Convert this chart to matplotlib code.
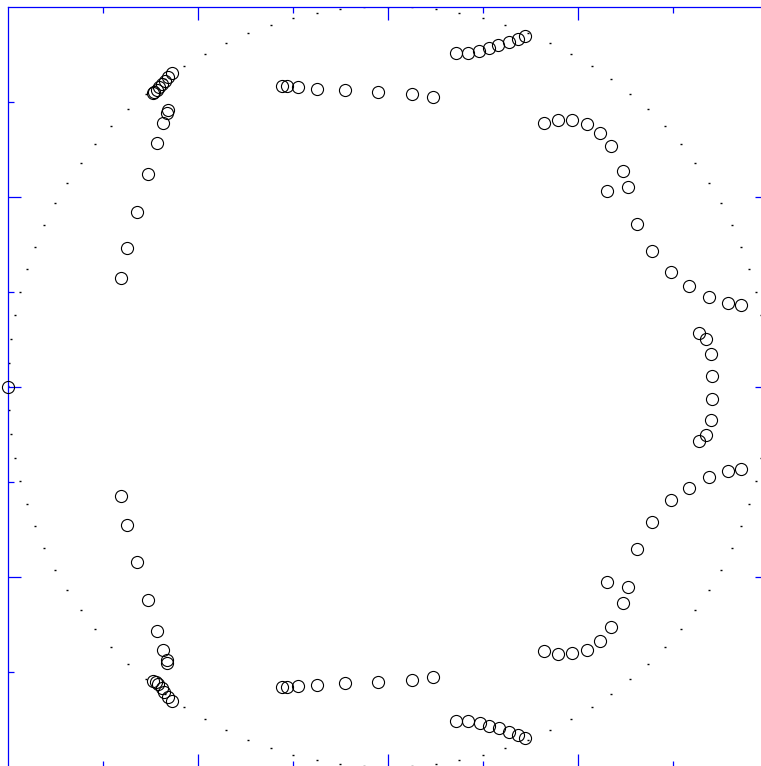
import matplotlib
matplotlib.use("Agg")
import matplotlib.pyplot as plt
import numpy as np

# outline of the domain: evenly spaced points on the unit circle
boundary_count = 100

# node positions (data units, axes run -1..1)
left_upper_x = [-0.703, -0.687, -0.661, -0.632, -0.608, -0.592, -0.582, -0.579,
                -0.618, -0.616, -0.608, -0.603, -0.595, -0.587, -0.579, -0.568]
left_upper_y = [0.286, 0.364, 0.459, 0.559, 0.641, 0.693, 0.720, 0.728,
                0.772, 0.775, 0.780, 0.788, 0.796, 0.804, 0.814, 0.825]

left_lower_x = [-0.703, -0.687, -0.661, -0.632, -0.608, -0.592, -0.582, -0.582,
                -0.618, -0.611, -0.605, -0.595, -0.589, -0.579, -0.568]
left_lower_y = [-0.288, -0.364, -0.462, -0.562, -0.643, -0.693, -0.720, -0.728,
                -0.775, -0.778, -0.783, -0.793, -0.804, -0.817, -0.828]

top_row_x = [-0.279, -0.266, -0.237, -0.187, -0.113, -0.026, 0.063, 0.118,
             0.179, 0.211, 0.239, 0.266, 0.289, 0.318, 0.342, 0.361]
top_row_y = [0.791, 0.791, 0.788, 0.783, 0.780, 0.775, 0.770, 0.762,
             0.878, 0.878, 0.883, 0.891, 0.899, 0.907, 0.914, 0.922]

bottom_row_x = [-0.279, -0.266, -0.237, -0.187, -0.113, -0.026, 0.063, 0.118,
                0.179, 0.211, 0.242, 0.266, 0.292, 0.318, 0.342, 0.361]
bottom_row_y = [-0.791, -0.791, -0.788, -0.786, -0.780, -0.778, -0.772, -0.765,
                -0.880, -0.880, -0.886, -0.893, -0.899, -0.909, -0.917, -0.925]

right_upper_x = [0.411, 0.447, 0.484, 0.524, 0.558, 0.587, 0.618, 0.632,
                 0.576, 0.655, 0.695, 0.745, 0.792, 0.845, 0.895, 0.929]
right_upper_y = [0.693, 0.701, 0.701, 0.691, 0.667, 0.633, 0.567, 0.525,
                 0.514, 0.428, 0.357, 0.301, 0.264, 0.236, 0.220, 0.214]

right_mid_x = [0.818, 0.837, 0.850, 0.853, 0.853, 0.850, 0.837, 0.818]
right_mid_y = [0.141, 0.125, 0.086, 0.028, -0.032, -0.088, -0.128, -0.143]

right_lower_x = [0.411, 0.447, 0.484, 0.524, 0.558, 0.587, 0.618, 0.632,
                 0.576, 0.655, 0.695, 0.745, 0.792, 0.845, 0.895, 0.929]
right_lower_y = [-0.696, -0.704, -0.701, -0.694, -0.670, -0.633, -0.570, -0.528,
                 -0.514, -0.428, -0.357, -0.299, -0.267, -0.238, -0.222, -0.217]

edge_x = [-1.0]
edge_y = [0.0]

node_x = (left_upper_x + left_lower_x + top_row_x + bottom_row_x
          + right_upper_x + right_mid_x + right_lower_x + edge_x)
node_y = (left_upper_y + left_lower_y + top_row_y + bottom_row_y
          + right_upper_y + right_mid_y + right_lower_y + edge_y)

fig = plt.figure(figsize=(7.61, 7.66), dpi=100)
ax = fig.add_axes([8 / 761, -0.5 / 766, 760 / 761, 760 / 766])

theta = np.arange(boundary_count) * 2 * np.pi / boundary_count
ax.plot(np.cos(theta), np.sin(theta), linestyle="none", marker="_",
        markersize=1.5, markeredgewidth=1.0, color="black", zorder=2)

ax.plot(node_x, node_y, linestyle="none", marker="o", markersize=8.7,
        markerfacecolor="none", markeredgecolor="black", markeredgewidth=0.8,
        clip_on=False, zorder=5)

ax.set_xlim(-1, 1)
ax.set_ylim(-1, 1)
ax.set_xticks([-0.5, 0, 0.5])
ax.set_yticks([-0.5, 0, 0.5])
ax.set_xticks([-0.75, -0.25, 0.25, 0.75], minor=True)
ax.set_yticks([-0.75, -0.25, 0.25, 0.75], minor=True)
ax.set_xticklabels([])
ax.set_yticklabels([])

for s in ax.spines.values():
    s.set_color("blue")
    s.set_linewidth(0.9)

ax.tick_params(which="both", direction="in", colors="blue", width=0.9,
               top=True, right=True, labelbottom=False, labelleft=False)
ax.tick_params(which="major", length=9.4)
ax.tick_params(which="minor", length=4.4)

fig.savefig("out.png", dpi=100)
